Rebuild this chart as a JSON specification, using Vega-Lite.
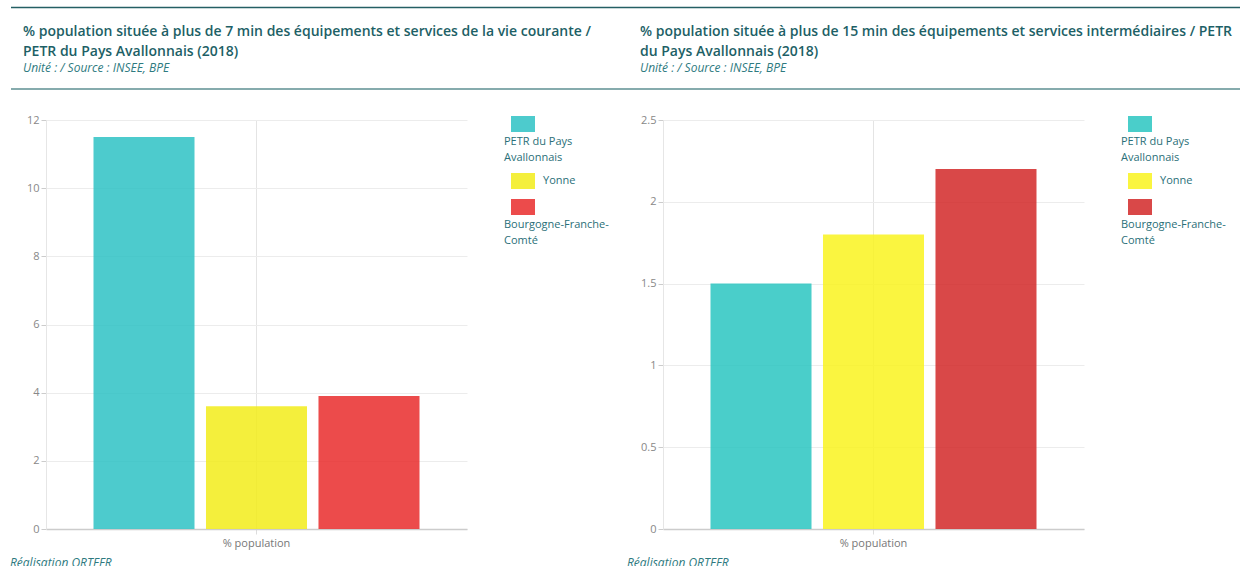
{
  "$schema": "https://vega.github.io/schema/vega-lite/v6.json",
  "padding": {"left": 10, "top": 6, "right": 0, "bottom": 0},
  "background": "white",
  "datasets": {
    "filets": [
      {"trait": "haut"},
      {"trait": "bas"}
    ],
    "vieCourante": [
      {"indicateur": "% population", "territoire": "PETR du Pays Avallonnais", "valeur": 11.5},
      {"indicateur": "% population", "territoire": "Yonne", "valeur": 3.6},
      {"indicateur": "% population", "territoire": "Bourgogne-Franche-Comté", "valeur": 3.9}
    ],
    "intermediaires": [
      {"indicateur": "% population", "territoire": "PETR du Pays Avallonnais", "valeur": 1.5},
      {"indicateur": "% population", "territoire": "Yonne", "valeur": 1.8},
      {"indicateur": "% population", "territoire": "Bourgogne-Franche-Comté", "valeur": 2.2}
    ]
  },
  "config": {
    "font": "Open Sans",
    "view": {"stroke": null},
    "axis": {
      "labelFont": "Open Sans",
      "labelFontSize": 11,
      "labelColor": "#888888",
      "gridColor": "#ececec",
      "gridWidth": 1,
      "tickColor": "#cccccc",
      "tickSize": 5,
      "labelPadding": 2
    },
    "title": {"color": "#1d5f66"}
  },
  "spacing": 24,
  "resolve": {"scale": {"color": "independent", "y": "independent", "x": "independent", "strokeWidth": "independent"}, "legend": {"color": "independent"}},
  "vconcat": [
    {
      "hconcat": [
        {
          "width": 580,
          "height": 83,
          "data": {"name": "filets"},
          "title": {
            "text": ["% population située à plus de 7 min des équipements et services de la vie courante /", "PETR du Pays Avallonnais (2018)"],
            "subtitle": "Unité : / Source : INSEE, BPE",
            "orient": "bottom",
            "anchor": "start",
            "frame": "group",
            "offset": -65,
            "dx": -23,
            "fontSize": 14,
            "fontWeight": 600,
            "lineHeight": 20,
            "color": "#1d5f66",
            "subtitleFont": "Open Sans",
            "subtitleFontSize": 12,
            "subtitleFontStyle": "italic",
            "subtitleColor": "#2e7a80",
            "subtitlePadding": 4
          },
          "mark": {"type": "rule"},
          "encoding": {
            "x": {"datum": 0, "type": "quantitative", "scale": {"domain": [0, 1], "range": [-35, 582]}, "axis": null},
            "x2": {"datum": 1},
            "y": {"field": "trait", "type": "nominal", "scale": {"type": "point", "domain": ["haut", "bas"], "range": [1.5, 83], "padding": 0}, "axis": null},
            "color": {"field": "trait", "type": "nominal", "scale": {"domain": ["haut", "bas"], "range": ["#245f64", "#86abad"]}, "legend": null},
            "strokeWidth": {"field": "trait", "type": "nominal", "scale": {"domain": ["haut", "bas"], "range": [1.5, 2]}, "legend": null}
          }
        },
        {
          "width": 578,
          "height": 83,
          "data": {"name": "filets"},
          "title": {
            "text": ["% population située à plus de 15 min des équipements et services intermédiaires / PETR", "du Pays Avallonnais (2018)"],
            "subtitle": "Unité : / Source : INSEE, BPE",
            "orient": "bottom",
            "anchor": "start",
            "frame": "group",
            "offset": -65,
            "dx": -23,
            "fontSize": 14,
            "fontWeight": 600,
            "lineHeight": 20,
            "color": "#1d5f66",
            "subtitleFont": "Open Sans",
            "subtitleFontSize": 12,
            "subtitleFontStyle": "italic",
            "subtitleColor": "#2e7a80",
            "subtitlePadding": 4
          },
          "mark": {"type": "rule"},
          "encoding": {
            "x": {"datum": 0, "type": "quantitative", "scale": {"domain": [0, 1], "range": [-35, 578]}, "axis": null},
            "x2": {"datum": 1},
            "y": {"field": "trait", "type": "nominal", "scale": {"type": "point", "domain": ["haut", "bas"], "range": [1.5, 83], "padding": 0}, "axis": null},
            "color": {"field": "trait", "type": "nominal", "scale": {"domain": ["haut", "bas"], "range": ["#245f64", "#86abad"]}, "legend": null},
            "strokeWidth": {"field": "trait", "type": "nominal", "scale": {"domain": ["haut", "bas"], "range": [1.5, 2]}, "legend": null}
          }
        }
      ],
      "spacing": -2,
      "resolve": {"scale": {"y": "independent", "x": "independent", "color": "independent", "strokeWidth": "independent"}, "legend": {"color": "independent", "strokeWidth": "independent"}}
    },
    {
      "bounds": "flush",
      "spacing": 196,
      "resolve": {"scale": {"color": "independent", "y": "independent", "x": "independent"}, "legend": {"color": "independent"}},
      "hconcat": [
        {
          "width": 421,
          "height": 409,
          "data": {"name": "vieCourante"},
          "title": {"text": "Réalisation ORTEFR", "orient": "bottom", "anchor": "start", "frame": "group", "dx": -36, "offset": 10, "fontSize": 12, "fontStyle": "italic", "fontWeight": "normal", "color": "#2e7a80"},
          "mark": {"type": "bar", "opacity": 0.85},
          "encoding": {
            "x": {"field": "indicateur", "type": "nominal", "title": null,
                  "scale": {"paddingInner": 0, "paddingOuter": 0.1457},
                  "axis": {"grid": true, "gridColor": "#e4e4e4", "labelAngle": 0, "labelColor": "#777777", "labelPadding": 3, "domainColor": "#cccccc", "domainWidth": 1.5, "tickColor": "#dddddd"}},
            "xOffset": {"field": "territoire", "type": "nominal", "sort": ["PETR du Pays Avallonnais", "Yonne", "Bourgogne-Franche-Comté"],
                        "scale": {"paddingInner": 0.102, "paddingOuter": 0}},
            "y": {"field": "valeur", "type": "quantitative", "title": null,
                  "scale": {"domain": [0, 12], "nice": false},
                  "axis": {"values": [0, 2, 4, 6, 8, 10, 12], "format": "~g", "domainColor": "#e6e6e6"}},
            "color": {"field": "territoire", "type": "nominal", "title": null,
                      "sort": ["PETR du Pays Avallonnais", "Yonne", "Bourgogne-Franche-Comté"],
                      "scale": {"domain": ["PETR du Pays Avallonnais", "Yonne", "Bourgogne-Franche-Comté"], "range": ["#2ec2c4", "#f2ec1a", "#e92c2c"]},
                      "legend": {
                        "orient": "none", "legendX": 465, "legendY": -4, "padding": 0,
                        "symbolType": "M-1,-1H2V1H-1Z", "symbolSize": 256, "symbolStrokeWidth": 0, "symbolOpacity": 0.85,
                        "labelOffset": 16, "labelFont": "Open Sans", "labelFontSize": 11, "labelColor": "#2a6f78", "labelLimit": 200,
                        "rowPadding": 10,
                        "labelExpr": "datum.value === 'PETR du Pays Avallonnais' ? ['PETR du Pays', 'Avallonnais'] : datum.value === 'Bourgogne-Franche-Comté' ? ['Bourgogne-Franche-', 'Comté'] : datum.value",
                        "encode": {
                          "labels": {"update": {
                            "dx": {"signal": "datum.value === 'Yonne' ? 0 : -39"},
                            "dy": {"signal": "datum.value === 'Yonne' ? 0 : 18"},
                            "lineHeight": {"value": 16}
                          }}
                        }
                      }}
          }
        },
        {
          "width": 421,
          "height": 409,
          "data": {"name": "intermediaires"},
          "title": {"text": "Réalisation ORTEFR", "orient": "bottom", "anchor": "start", "frame": "group", "dx": -36, "offset": 10, "fontSize": 12, "fontStyle": "italic", "fontWeight": "normal", "color": "#2e7a80"},
          "mark": {"type": "bar", "opacity": 0.85},
          "encoding": {
            "x": {"field": "indicateur", "type": "nominal", "title": null,
                  "scale": {"paddingInner": 0, "paddingOuter": 0.1457},
                  "axis": {"grid": true, "gridColor": "#e4e4e4", "labelAngle": 0, "labelColor": "#777777", "labelPadding": 3, "domainColor": "#cccccc", "domainWidth": 1.5, "tickColor": "#dddddd"}},
            "xOffset": {"field": "territoire", "type": "nominal", "sort": ["PETR du Pays Avallonnais", "Yonne", "Bourgogne-Franche-Comté"],
                        "scale": {"paddingInner": 0.102, "paddingOuter": 0}},
            "y": {"field": "valeur", "type": "quantitative", "title": null,
                  "scale": {"domain": [0, 2.5], "nice": false},
                  "axis": {"values": [0, 0.5, 1, 1.5, 2, 2.5], "format": "~g", "domainColor": "#e6e6e6"}},
            "color": {"field": "territoire", "type": "nominal", "title": null,
                      "sort": ["PETR du Pays Avallonnais", "Yonne", "Bourgogne-Franche-Comté"],
                      "scale": {"domain": ["PETR du Pays Avallonnais", "Yonne", "Bourgogne-Franche-Comté"], "range": ["#2ac6c1", "#f9f31e", "#d22828"]},
                      "legend": {
                        "orient": "none", "legendX": 465, "legendY": -4, "padding": 0,
                        "symbolType": "M-1,-1H2V1H-1Z", "symbolSize": 256, "symbolStrokeWidth": 0, "symbolOpacity": 0.85,
                        "labelOffset": 16, "labelFont": "Open Sans", "labelFontSize": 11, "labelColor": "#2a6f78", "labelLimit": 200,
                        "rowPadding": 10,
                        "labelExpr": "datum.value === 'PETR du Pays Avallonnais' ? ['PETR du Pays', 'Avallonnais'] : datum.value === 'Bourgogne-Franche-Comté' ? ['Bourgogne-Franche-', 'Comté'] : datum.value",
                        "encode": {
                          "labels": {"update": {
                            "dx": {"signal": "datum.value === 'Yonne' ? 0 : -39"},
                            "dy": {"signal": "datum.value === 'Yonne' ? 0 : 18"},
                            "lineHeight": {"value": 16}
                          }}
                        }
                      }}
          }
        }
      ]
    }
  ]
}
